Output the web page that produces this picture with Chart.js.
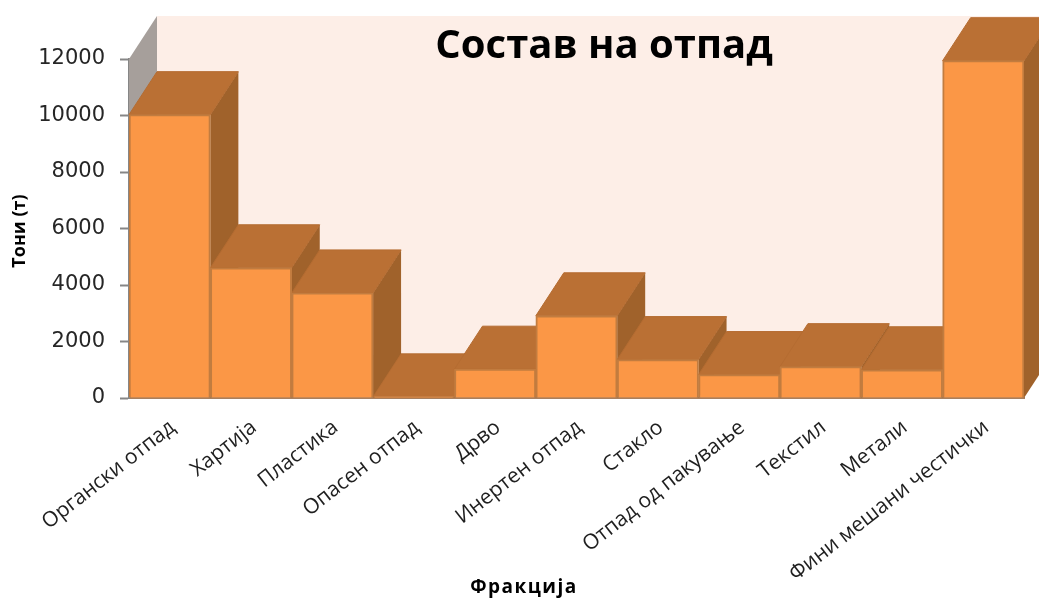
<!DOCTYPE html>
<html>
<head>
<meta charset="utf-8">
<style>
  html, body { margin: 0; padding: 0; background: #fff; }
  #wrap { width: 1039px; height: 599px; }
</style>
<script src="https://cdn.jsdelivr.net/npm/chart.js@4/dist/chart.umd.min.js"></script>
</head>
<body>
<div id="wrap"><canvas id="chart"></canvas></div>
<script>
const categories = ['Органски отпад', 'Хартија', 'Пластика', 'Опасен отпад', 'Дрво', 'Инертен отпад',
  'Стакло', 'Отпад од пакување', 'Текстил', 'Метали', 'Фини мешани честички'];
const tons = [10030, 4610, 3720, 40, 1020, 2910, 1360, 830, 1110, 1000, 11940];
const tickValues = [0, 2000, 4000, 6000, 8000, 10000, 12000];

const chartTitle = 'Состав на отпад';
const yTitle = 'Тони (т)';
const xTitle = 'Фракција';

// depth of the fake 3d box, in pixels
const DEPTH_X = 28;
const DEPTH_Y = 43;

function poly(ctx, pts, fill, stroke) {
  ctx.beginPath();
  pts.forEach((p, i) => i ? ctx.lineTo(p[0], p[1]) : ctx.moveTo(p[0], p[1]));
  ctx.closePath();
  ctx.fillStyle = fill;
  ctx.fill();
  if (stroke) {
    ctx.strokeStyle = stroke;
    ctx.lineWidth = 1;
    ctx.stroke();
  }
}

const box3d = {
  id: 'box3d',
  beforeDatasetsDraw(chart) {
    const { ctx, chartArea: { left, right, top, bottom } } = chart;
    ctx.save();
    // back and left walls
    poly(ctx, [[left + DEPTH_X, top - DEPTH_Y], [right + DEPTH_X, top - DEPTH_Y],
      [right + DEPTH_X, bottom - DEPTH_Y], [left + DEPTH_X, bottom - DEPTH_Y]], '#fdeee7');
    poly(ctx, [[left, top], [left + DEPTH_X, top - DEPTH_Y],
      [left + DEPTH_X, bottom - DEPTH_Y], [left, bottom]], '#a69f9b');
    // sides and tops go left to right, each top lies over the previous side
    chart.getDatasetMeta(0).data.forEach(bar => {
      const l = bar.x - bar.width / 2;
      const r = bar.x + bar.width / 2;
      const t = bar.y;
      poly(ctx, [[r, t], [r + DEPTH_X, t - DEPTH_Y], [r + DEPTH_X, bottom - DEPTH_Y], [r, bottom]], '#a0622b');
      poly(ctx, [[l, t], [l + DEPTH_X, t - DEPTH_Y], [r + DEPTH_X, t - DEPTH_Y], [r, t]], '#ba7034', '#b56c31');
    });
    ctx.restore();
  },
  afterDraw(chart) {
    const { ctx } = chart;
    ctx.save();
    ctx.fillStyle = '#000';
    ctx.textAlign = 'center';
    ctx.textBaseline = 'middle';
    ctx.font = 'bold 40px "Open Sans"';
    ctx.fillText(chartTitle, 604, 47);
    ctx.font = 'bold 19px "Open Sans"';
    ctx.letterSpacing = '1.5px';
    ctx.fillText(xTitle, 524, 588);
    ctx.letterSpacing = '0px';
    ctx.font = 'bold 18px "Open Sans"';
    ctx.translate(20, 231);
    ctx.rotate(-Math.PI / 2);
    ctx.fillText(yTitle, 0, 0);
    ctx.restore();
  }
};

new Chart(document.getElementById('chart'), {
  type: 'bar',
  plugins: [box3d],
  data: {
    labels: categories,
    datasets: [{
      data: tons,
      backgroundColor: '#fb9746',
      borderColor: '#c27c3f',
      borderWidth: 2,
      barPercentage: 1,
      categoryPercentage: 1
    }]
  },
  options: {
    responsive: true,
    maintainAspectRatio: false,
    animation: false,
    layout: { padding: { top: 59, right: 15, left: 0, bottom: 0 }, autoPadding: false },
    plugins: { legend: { display: false }, tooltip: { enabled: false } },
    scales: {
      x: {
        z: 1,
        afterFit(scale) { scale.height = 201; },
        border: { color: '#a87f5e', width: 2 },
        grid: { drawOnChartArea: false, drawTicks: false },
        ticks: {
          minRotation: 38,
          maxRotation: 38,
          autoSkip: false,
          padding: 17,
          labelOffset: 3,
          color: '#1f1f1f',
          font: { family: '"Open Sans"', size: 21 }
        }
      },
      y: {
        z: 1,
        min: 0,
        max: 12000,
        afterFit(scale) { scale.width = 129; },
        afterBuildTicks(scale) { scale.ticks = tickValues.map(value => ({ value })); },
        border: { color: '#868686', width: 2 },
        grid: { drawOnChartArea: false, tickLength: 9, tickColor: '#868686', tickWidth: 2 },
        ticks: {
          padding: 15,
          color: '#262626',
          callback: value => String(value),
          font: { family: '"DejaVu Sans"', size: 21 }
        }
      }
    }
  }
});
</script>
</body>
</html>
